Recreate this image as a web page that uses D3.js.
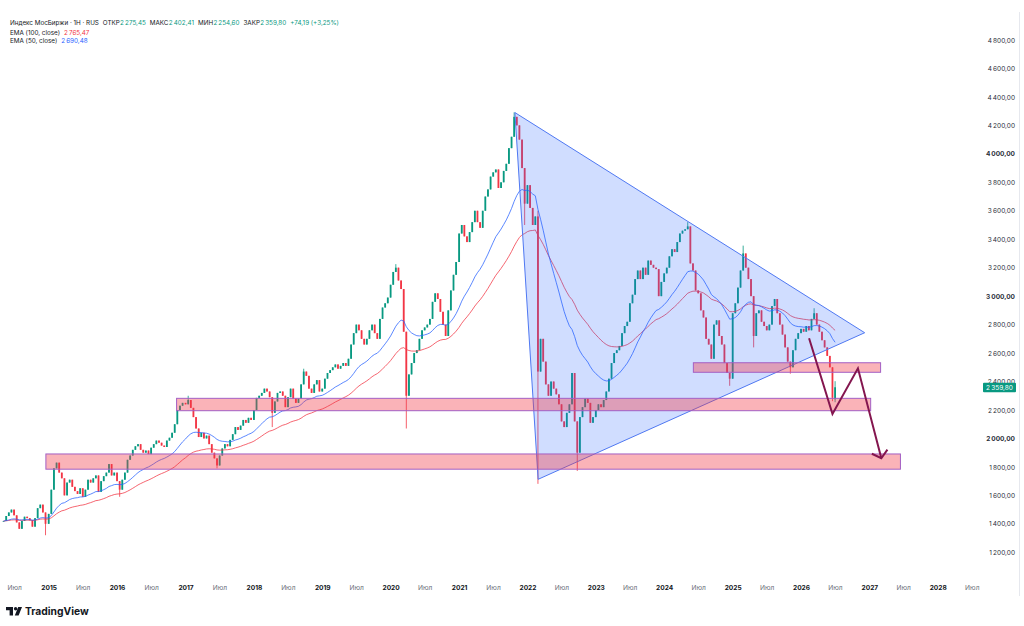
<!DOCTYPE html>
<html>
<head>
<meta charset="utf-8">
<script src="https://cdn.jsdelivr.net/npm/d3@7"></script>
<style>
  body { margin: 0; background: #fff; }
  svg { display: block; font-family: Inter, Roboto, 'Noto Sans', sans-serif; }
</style>
</head>
<body>
<div id="chart"></div>
<script>
// weekly MOEX chart, closes every second week
const close2014 = [1420, 1455, 1480, 1500, 1460, 1410, 1365, 1420, 1450, 1440, 1425, 1380, 1440, 1510, 1535, 1480, 1400]
const close2015 = [1470, 1640, 1790, 1830, 1760, 1720, 1600, 1690, 1710, 1660, 1630, 1610, 1650, 1590, 1640, 1710, 1690, 1720, 1740, 1625, 1700, 1735, 1760, 1820, 1740, 1760]
const close2016 = [1700, 1640, 1710, 1760, 1850, 1880, 1920, 1945, 1960, 1920, 1900, 1915, 1890, 1935, 1960, 1985, 1970, 1950, 1940, 1985, 2005, 2040, 2100, 2200, 2230, 2250]
const close2017 = [2240, 2270, 2215, 2150, 2070, 2010, 2040, 2000, 2020, 1960, 1900, 1860, 1810, 1880, 1930, 1960, 1945, 1990, 2030, 2080, 2060, 2090, 2130, 2110, 2145, 2130]
const close2018 = [2200, 2285, 2300, 2320, 2350, 2330, 2290, 2180, 2260, 2320, 2330, 2300, 2220, 2290, 2350, 2280, 2250, 2280, 2380, 2470, 2440, 2350, 2320, 2380, 2410, 2330]
const close2019 = [2350, 2420, 2460, 2480, 2500, 2520, 2490, 2510, 2530, 2510, 2560, 2660, 2740, 2800, 2760, 2700, 2660, 2700, 2760, 2800, 2740, 2700, 2840, 2920, 2950, 2990]
const close2020 = [3080, 3170, 3200, 3110, 3050, 2750, 2300, 2450, 2530, 2600, 2620, 2700, 2760, 2780, 2800, 2840, 2960, 3020, 2980, 2890, 2800, 2720, 2900, 3040, 3150, 3240]
const close2021 = [3440, 3500, 3420, 3380, 3450, 3520, 3600, 3520, 3480, 3600, 3700, 3750, 3840, 3870, 3890, 3760, 3800, 3880, 3930, 4040, 4120, 4260, 4200, 4100, 3900, 3650]
const close2022 = [3780, 3620, 3500, 3560, 2470, 2700, 2540, 2380, 2300, 2400, 2350, 2310, 2240, 2120, 2080, 2180, 2240, 2460, 2120, 1900, 2150, 2220, 2280, 2250, 2110, 2150]
const close2023 = [2200, 2240, 2220, 2270, 2330, 2420, 2530, 2600, 2620, 2650, 2740, 2790, 2820, 2950, 3010, 3120, 3180, 3120, 3200, 3150, 3250, 3220, 3200, 3190, 3000, 3100]
const close2024 = [3160, 3200, 3280, 3330, 3310, 3380, 3440, 3460, 3470, 3490, 3230, 3180, 3040, 3020, 2900, 2850, 2700, 2660, 2560, 2800, 2830, 2720, 2660, 2530, 2460, 2420]
const close2025 = [2880, 2950, 3060, 3180, 3300, 3200, 3120, 3000, 2720, 2880, 2900, 2820, 2790, 2760, 2800, 2930, 2980, 2880, 2800, 2730, 2640, 2540, 2500, 2620, 2700, 2740]
const close2026 = [2770, 2750, 2790, 2760, 2840, 2880, 2800, 2750, 2690, 2640, 2580, 2500, 2285.61, 2359.80]

// long wicks / last bar
const wicks = [
  { year: 2014, i: 16, lo: 1320 },
  { year: 2016, i: 1, lo: 1590 },
  { year: 2017, i: 1, hi: 2300 },
  { year: 2017, i: 12, lo: 1790 },
  { year: 2018, i: 7, lo: 2080 },
  { year: 2018, i: 19, hi: 2490 },
  { year: 2020, i: 2, hi: 3225 },
  { year: 2020, i: 6, lo: 2070 },
  { year: 2021, i: 21, hi: 4292 },
  { year: 2021, i: 25, lo: 3500 },
  { year: 2022, i: 4, hi: 3600, lo: 1681 },
  { year: 2022, i: 19, lo: 1772 },
  { year: 2024, i: 9, hi: 3520 },
  { year: 2024, i: 25, lo: 2370 },
  { year: 2025, i: 4, hi: 3355 },
  { year: 2025, i: 8, lo: 2640 },
  { year: 2025, i: 22, lo: 2455 },
  { year: 2026, i: 5, hi: 2915 },
  { year: 2026, i: 12, lo: 2262 },
  { year: 2026, i: 13, open: 2275.45, hi: 2402.41, lo: 2254.60 }
]

const emaLegend = [
  { name: 'EMA (100, close)', value: 2765.47 },
  { name: 'EMA (50, close)', value: 2690.48 }
]

const yTicks = [1200, 1400, 1600, 1800, 2000, 2200, 2400, 2600, 2800, 3000, 3200, 3400, 3600, 3800, 4000, 4200, 4400, 4600, 4800]
const tickYears = [2015, 2016, 2017, 2018, 2019, 2020, 2021, 2022, 2023, 2024, 2025, 2026, 2027, 2028]
const julyYears = [2014, 2015, 2016, 2017, 2018, 2019, 2020, 2021, 2022, 2023, 2024, 2025, 2026, 2027, 2028]
const julyLabel = 'Июл'

// drawings, anchored in [date, price]
const triangle = [['2021-10-26', 4290], ['2022-02-27', 1713], ['2026-12-07', 2743]]
const zones = [
  { from: '2014-12-17', to: '2027-06-16', top: 1891, bottom: 1784 },
  { from: '2016-11-14', to: '2027-01-08', top: 2282, bottom: 2195 },
  { from: '2024-06-05', to: '2027-03-02', top: 2532, bottom: 2465 }
]
const pathPoints = [['2026-02-13', 2704], ['2026-06-18', 2172], ['2026-11-01', 2493], ['2027-03-06', 1861]]

const width = 1024, height = 626
const upColor = '#089981', downColor = '#f23645'

const locale = d3.formatLocale({ decimal: ',', thousands: '\u2009', grouping: [3], currency: ['', ''] })
const fmt = locale.format(',.2f')
const parse = d3.timeParse('%Y-%m-%d')

// build candles
const yearly = [[2014, close2014], [2015, close2015], [2016, close2016], [2017, close2017], [2018, close2018],
  [2019, close2019], [2020, close2020], [2021, close2021], [2022, close2022], [2023, close2023],
  [2024, close2024], [2025, close2025], [2026, close2026]]
let candles = []
let prev = close2014[0]
yearly.forEach(function([yr, closes]){
  closes.forEach(function(c, i){
    let date = yr === 2014 ? new Date(2014, 4, 5 + 14 * i) : new Date(yr, 0, 1 + 14 * i)
    let w = wicks.find(function(d){ return d.year === yr && d.i === i }) || {}
    let o = w.open !== undefined ? w.open : prev
    candles.push({ date: date, o: o, c: c, prevC: prev,
                   h: Math.max(o, c, w.hi || 0), l: Math.min(o, c, w.lo || Infinity) })
    prev = c
  })
})

function ema(values, period){
  let k = 2 / (period + 1), last = values[0]
  return values.map(function(v){ last = v * k + last * (1 - k); return last })
}
let closes = candles.map(function(d){ return d.c })
// bars are two weeks apart, so the periods are halved
let ema100 = ema(closes, 50)
let ema50 = ema(closes, 25)

const x = d3.scaleTime()
  .domain([new Date(2015, 0, 1), new Date(2028, 0, 1)])
  .range([48.7, 937.7])
const y = d3.scaleLinear()
  .domain([1200, 4800])
  .range([552.3, 40])

const svg = d3.select('#chart').append('svg')
  .attr('width', width)
  .attr('height', height)

svg.append('rect').attr('width', width).attr('height', height).attr('fill', '#fff')

// frame of the price scale
svg.append('line')
  .attr('x1', 1019.5).attr('x2', 1019.5).attr('y1', 12).attr('y2', 596)
  .attr('stroke', '#e6e8ee')

// candles
let bars = svg.append('g').attr('class', 'candles')
bars.selectAll('line.wick')
  .data(candles)
  .enter().append('line')
  .attr('class', 'wick')
  .attr('x1', function(d){ return x(d.date) })
  .attr('x2', function(d){ return x(d.date) })
  .attr('y1', function(d){ return y(d.h) })
  .attr('y2', function(d){ return y(d.l) })
  .attr('stroke', function(d){ return d.c >= d.o ? upColor : downColor })
  .attr('stroke-width', 0.8)
bars.selectAll('rect.body')
  .data(candles)
  .enter().append('rect')
  .attr('class', 'body')
  .attr('x', function(d){ return x(d.date) - 0.9 })
  .attr('width', 1.8)
  .attr('y', function(d){ return y(Math.max(d.o, d.c)) })
  .attr('height', function(d){ return Math.max(0.8, Math.abs(y(d.o) - y(d.c))) })
  .attr('fill', function(d){ return d.c >= d.o ? upColor : downColor })

// moving averages
let emaLine = d3.line()
  .x(function(d, i){ return x(candles[i].date) })
  .y(function(d){ return y(d) })
svg.append('path').datum(ema100)
  .attr('d', emaLine).attr('fill', 'none')
  .attr('stroke', '#f23645').attr('stroke-width', 0.9).attr('opacity', 0.85)
svg.append('path').datum(ema50)
  .attr('d', emaLine).attr('fill', 'none')
  .attr('stroke', '#2962ff').attr('stroke-width', 0.9).attr('opacity', 0.85)

// triangle
let pt = d3.line()
  .x(function(d){ return x(parse(d[0])) })
  .y(function(d){ return y(d[1]) })
svg.append('path').datum(triangle)
  .attr('d', function(d){ return pt(d) + 'Z' })
  .attr('fill', 'rgba(41,98,255,0.22)')
  .attr('stroke', '#4f78f2')
  .attr('stroke-width', 1)

// zones
svg.selectAll('rect.zone')
  .data(zones)
  .enter().append('rect')
  .attr('class', 'zone')
  .attr('x', function(d){ return x(parse(d.from)) })
  .attr('width', function(d){ return x(parse(d.to)) - x(parse(d.from)) })
  .attr('y', function(d){ return y(d.top) })
  .attr('height', function(d){ return y(d.bottom) - y(d.top) })
  .attr('fill', 'rgba(242,54,69,0.38)')
  .attr('stroke', '#a35fc4')
  .attr('stroke-width', 1)

// projected path with arrow
svg.append('path').datum(pathPoints)
  .attr('d', pt)
  .attr('fill', 'none')
  .attr('stroke', '#84164f')
  .attr('stroke-width', 2)
  .attr('stroke-linejoin', 'miter')
let tip = pathPoints[pathPoints.length - 1], before = pathPoints[pathPoints.length - 2]
let tx = x(parse(tip[0])), ty = y(tip[1])
let back = Math.atan2(y(before[1]) - ty, x(parse(before[0])) - tx)
let arm = 10.5, spread = 50 * Math.PI / 180
svg.append('path')
  .attr('d', 'M' + (tx + arm * Math.cos(back - spread)) + ',' + (ty + arm * Math.sin(back - spread)) +
             'L' + tx + ',' + ty +
             'L' + (tx + arm * Math.cos(back + spread)) + ',' + (ty + arm * Math.sin(back + spread)))
  .attr('fill', 'none')
  .attr('stroke', '#84164f')
  .attr('stroke-width', 2)

// price scale
let yAxis = svg.append('g')
  .attr('transform', 'translate(1015,0)')
  .call(d3.axisLeft(y).tickValues(yTicks).tickSize(0).tickPadding(0).tickFormat(fmt))
yAxis.select('.domain').remove()
yAxis.selectAll('text')
  .attr('font-family', 'Inter, Roboto, sans-serif')
  .attr('font-size', 6.5)
  .attr('fill', '#2a2e39')
  .attr('font-weight', function(d){ return d % 1000 === 0 ? 700 : 400 })

// last price badge
let last = candles[candles.length - 1]
svg.append('rect')
  .attr('x', 983).attr('width', 33)
  .attr('y', y(last.c) - 4.5).attr('height', 9.5)
  .attr('rx', 1)
  .attr('fill', upColor)
svg.append('text')
  .attr('x', 999.5).attr('y', y(last.c) + 2.5)
  .attr('text-anchor', 'middle')
  .attr('font-size', 6.5)
  .attr('fill', '#fff')
  .text(fmt(last.c))

// time scale
let xTicks = julyYears.map(function(yr){ return new Date(yr, 6, 1) })
  .concat(tickYears.map(function(yr){ return new Date(yr, 0, 1) }))
  .sort(d3.ascending)
let xAxis = svg.append('g')
  .attr('transform', 'translate(0,585.5)')
  .call(d3.axisBottom(x).tickValues(xTicks).tickSize(0).tickPadding(0)
    .tickFormat(function(d){ return d.getMonth() === 6 ? julyLabel : d.getFullYear() }))
xAxis.select('.domain').remove()
xAxis.selectAll('text')
  .attr('font-family', 'Inter, Roboto, sans-serif')
  .attr('font-size', 6.6)
  .attr('font-weight', function(d){ return d.getMonth() === 6 ? 400 : 700 })
  .attr('fill', function(d){ return d.getMonth() === 6 ? '#6a6d78' : '#131722' })

// legend
let change = last.c - last.prevC
let head = svg.append('text')
  .attr('x', 10).attr('y', 24.5)
  .attr('font-size', 6.3)
  .attr('fill', '#131722')
head.append('tspan').text('Индекс МосБиржи · 1Н · RUS')
let fields = [['ОТКР', last.o], ['МАКС', last.h], ['МИН', last.l], ['ЗАКР', last.c]]
fields.forEach(function(f){
  head.append('tspan').attr('dx', 4).text(f[0])
  head.append('tspan').attr('dx', 0.3).attr('fill', upColor).text(fmt(f[1]))
})
head.append('tspan').attr('dx', 4).attr('fill', upColor)
  .text('+' + fmt(change) + ' (+' + fmt(change / last.prevC * 100) + '%)')

emaLegend.forEach(function(e, i){
  let t = svg.append('text')
    .attr('x', 10).attr('y', 34.5 + i * 8.2)
    .attr('font-size', 6.3)
    .attr('fill', '#131722')
  t.append('tspan').text(e.name)
  t.append('tspan').attr('dx', 4)
    .attr('fill', i === 0 ? '#f23645' : '#2962ff')
    .text(fmt(e.value))
})

// TradingView mark
let logo = svg.append('g').attr('transform', 'translate(6,607)').attr('fill', '#131722')
logo.append('path').attr('d', 'M0 0H7V8.5H3.6V3.3H0Z')
logo.append('circle').attr('cx', 9.6).attr('cy', 1.7).attr('r', 1.7)
logo.append('path').attr('d', 'M12.2 0H16L12.6 8.5H8.8Z')
svg.append('text')
  .attr('x', 25).attr('y', 615)
  .attr('font-size', 10.3)
  .attr('font-weight', 700)
  .attr('fill', '#131722')
  .text('TradingView')
</script>
</body>
</html>
